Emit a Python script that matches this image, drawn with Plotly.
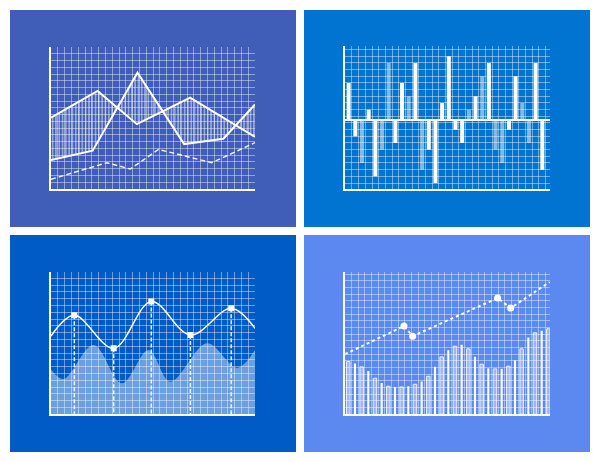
import plotly.graph_objects as go

W, H = 600, 462

# ---------------- data (grid units) ----------------
# Panel 1: two solid lines with hatched band between them, one dashed line
p1_a_x = [0, 6.85, 12.63, 20.46, 30]
p1_a_y = [10.57, 14.51, 9.59, 13.52, 7.72]
p1_b_x = [0, 6.12, 12.72, 19.58, 25.35, 30]
p1_b_y = [4.28, 5.66, 17.21, 6.64, 7.43, 12.49]
p1_c_x = [0, 8.22, 11.65, 15.81, 23.64, 30]
p1_c_y = [1.43, 3.89, 2.95, 5.85, 3.89, 6.84]

# Panel 2: positive / negative bars (solid series and light series)
p2_x = list(range(30))
p2_solid = [5.5, -2.5, None, 1.5, -8.5, None, None, -3.5, 5.5, None, 8.5, None,
            -4.5, -9.5, 2.5, 9.5, -1.5, -3.5, None, 3.5, None, 8.5, None, None,
            -1.5, 6.5, None, None, 8.5, -7.5]
p2_light = [None, None, -6.5, None, None, -4.5, 8.5, None, None, 3.5, None, -7.5,
            None, None, None, None, None, None, 1.5, None, 6.5, None, -4.5, -6.5,
            None, None, 2.5, -3.5, None, None]

# Panel 3: wave line with square markers, and a wavy area
p3_curve_x = [0, 3.43, 9.22, 14.75, 20.5, 26.5, 30]
p3_curve_y = [11.5, 14.56, 9.7, 16.6, 11.66, 15.6, 12.65]
p3_area_x = [0, 1.85, 6.26, 10.43, 14.35, 17.54, 22.94, 27.35, 30]
p3_area_y = [6.6, 5.2, 10.2, 4.56, 9.46, 4.8, 10.44, 6.85, 9.46]

# Panel 4: thin bars and a dashed trend with round markers
p4_vals = [7.9, 7.6, 7.1, 6.5, 5.4, 4.7, 4.2, 4.1, 4.1, 4.2, 4.5, 4.9, 5.7, 7.1,
           8.6, 9.6, 10.2, 10.4, 9.8, 8.6, 7.5, 6.9, 6.8, 6.8, 7.2, 8.1, 9.8,
           11.5, 12.2, 12.5, 12.8]
p4_line_x = [-0.5, 8.35, 9.65, 22.4, 24.35, 30.2]
p4_line_y = [9.0, 13.2, 11.7, 17.4, 15.9, 19.8]

# ---------------- layout geometry ----------------
panels = [
    (10, 10, 296, 227, "#405db8"),
    (304, 10, 590, 227, "#0074d0"),
    (10, 235, 296, 452, "#005bc7"),
    (304, 235, 590, 452, "#5b89ef"),
]
plots = [
    (51, 47, 255, 189),
    (345.3, 46.3, 550, 189),
    (51, 272, 255, 414.3),
    (345.3, 272, 550, 414.3),
]
ranges = [
    ([0, 30], [0, 21], 0, 0),
    ([-0.5, 30.15], [-10.4, 11.0], 0.5, 0.5),
    ([0, 30], [0, 20.93], 0, 0),
    ([-0.45, 30.25], [0, 21.3], 0.5, 0),
]

GRID = "rgba(255,255,255,0.42)"
WHITE = "white"

fig = go.Figure()

# Panel 1
fig.add_trace(go.Scatter(x=p1_a_x, y=p1_a_y, mode="lines",
                         line=dict(color=WHITE, width=2), xaxis="x", yaxis="y"))
fig.add_trace(go.Scatter(x=p1_b_x, y=p1_b_y, mode="lines", fill="tonexty",
                         fillcolor="rgba(0,0,0,0)",
                         fillpattern=dict(shape="|", fgcolor="white", fgopacity=0.75,
                                          bgcolor="rgba(0,0,0,0)", size=3.3, solidity=0.3),
                         line=dict(color=WHITE, width=2), xaxis="x", yaxis="y"))
fig.add_trace(go.Scatter(x=p1_c_x, y=p1_c_y, mode="lines",
                         line=dict(color="rgba(255,255,255,0.9)", width=1.5, dash="5px,3px"),
                         xaxis="x", yaxis="y"))

# Panel 2
fig.add_trace(go.Bar(x=p2_x, y=p2_light, width=0.6,
                     marker=dict(color="rgba(255,255,255,0.5)", line=dict(width=0)),
                     xaxis="x2", yaxis="y2"))
fig.add_trace(go.Bar(x=p2_x, y=p2_solid, width=0.6,
                     marker=dict(color=WHITE, line=dict(width=0)),
                     xaxis="x2", yaxis="y2"))

# Panel 3
fig.add_trace(go.Scatter(x=p3_area_x, y=p3_area_y, mode="lines", fill="tozeroy",
                         fillcolor="rgba(255,255,255,0.42)",
                         line=dict(color="rgba(255,255,255,0)", width=0, shape="spline"),
                         xaxis="x3", yaxis="y3"))
drop_x, drop_y = [], []
for xv, yv in zip(p3_curve_x[1:-1], p3_curve_y[1:-1]):
    drop_x += [xv, xv, None]
    drop_y += [yv, 0, None]
fig.add_trace(go.Scatter(x=drop_x, y=drop_y, mode="lines",
                         line=dict(color="rgba(255,255,255,0.9)", width=1.5, dash="4px,2px"),
                         xaxis="x3", yaxis="y3"))
fig.add_trace(go.Scatter(x=p3_curve_x, y=p3_curve_y, mode="lines",
                         line=dict(color=WHITE, width=1.5, shape="spline"),
                         xaxis="x3", yaxis="y3"))
fig.add_trace(go.Scatter(x=p3_curve_x[1:-1], y=p3_curve_y[1:-1], mode="markers",
                         marker=dict(symbol="square", size=6, color=WHITE),
                         xaxis="x3", yaxis="y3"))

# Panel 4
p4_x = list(range(len(p4_vals)))
light_x = [x for x in p4_x if x % 2 == 0]
solid_x = [x for x in p4_x if x % 2 == 1]
fig.add_trace(go.Bar(x=light_x, y=[p4_vals[i] for i in light_x], width=0.52,
                     marker=dict(color="rgba(255,255,255,0.38)",
                                 line=dict(color="rgba(255,255,255,0.85)", width=1)),
                     xaxis="x4", yaxis="y4"))
fig.add_trace(go.Bar(x=solid_x, y=[p4_vals[i] for i in solid_x], width=0.32,
                     marker=dict(color=WHITE, line=dict(width=0)),
                     xaxis="x4", yaxis="y4"))
fig.add_trace(go.Scatter(x=p4_line_x, y=p4_line_y, mode="lines",
                         line=dict(color=WHITE, width=2, dash="3px,3px"),
                         xaxis="x4", yaxis="y4"))
fig.add_trace(go.Scatter(x=p4_line_x[1:-1], y=p4_line_y[1:-1], mode="markers",
                         marker=dict(symbol="circle", size=7, color=WHITE),
                         xaxis="x4", yaxis="y4"))

# ---------------- axes / panels ----------------
layout = dict(width=W, height=H, margin=dict(l=0, r=0, t=0, b=0),
              paper_bgcolor="white", plot_bgcolor="rgba(0,0,0,0)",
              showlegend=False, barmode="overlay", shapes=[])
for i, ((px0, py0, px1, py1, col), (x0, y0, x1, y1), (xr, yr, xt0, yt0)) in enumerate(
        zip(panels, plots, ranges)):
    n = "" if i == 0 else str(i + 1)
    layout["shapes"].append(dict(type="rect", xref="paper", yref="paper",
                                 x0=px0 / W, x1=px1 / W, y0=1 - py1 / H, y1=1 - py0 / H,
                                 fillcolor=col, line=dict(width=0), layer="below"))
    common = dict(showticklabels=False, ticks="", showgrid=True, gridcolor=GRID,
                  gridwidth=1, showline=True, linecolor=WHITE, linewidth=2,
                  fixedrange=True, tickmode="linear", dtick=1)
    layout["xaxis" + n] = dict(common, domain=[x0 / W, x1 / W], range=xr, tick0=xt0,
                               anchor="y" + n, zeroline=False)
    layout["yaxis" + n] = dict(common, domain=[1 - y1 / H, 1 - y0 / H], range=yr, tick0=yt0,
                               anchor="x" + n,
                               zeroline=(i == 1), zerolinecolor=WHITE, zerolinewidth=2)

fig.update_layout(**layout)
fig.write_html("out.html", config={"displayModeBar": False},
               post_script="document.body.style.margin='0';document.body.style.overflow='hidden';")
